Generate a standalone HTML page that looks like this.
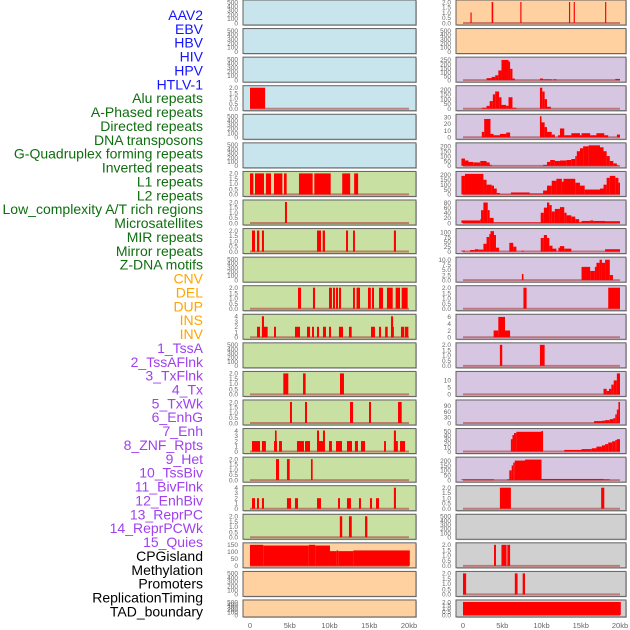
<!DOCTYPE html>
<html><head><meta charset="utf-8">
<style>
html,body{margin:0;padding:0;background:#fff;width:630px;height:630px;overflow:hidden}
svg{display:block}
text{font-family:"Liberation Sans",sans-serif}
</style></head>
<body>
<svg id="chart" width="630" height="630" viewBox="0 0 630 630" xmlns="http://www.w3.org/2000/svg"></svg>
<script>
// ---- labels ----
const trackLabels = ["AAV2","EBV","HBV","HIV","HPV","HTLV-1","Alu repeats","A-Phased repeats","Directed repeats","DNA transposons","G-Quadruplex forming repeats","Inverted repeats","L1 repeats","L2 repeats","Low_complexity A/T rich regions","Microsatellites","MIR repeats","Mirror repeats","Z-DNA motifs","CNV","DEL","DUP","INS","INV","1_TssA","2_TssAFlnk","3_TxFlnk","4_Tx","5_TxWk","6_EnhG","7_Enh","8_ZNF_Rpts","9_Het","10_TssBiv","11_BivFlnk","12_EnhBiv","13_ReprPC","14_ReprPCWk","15_Quies","CPGisland","Methylation","Promoters","ReplicationTiming","TAD_boundary"];
const xTickValues = [0,5,10,15,20];
const xTickLabels = ["0","5kb","10kb","15kb","20kb"];

// ---- left column panels: bg, yMax, ticks, segments [startKb,endKb,value] ----
const leftBg = ["blue","blue","blue","blue","blue","blue","green","green","green","green","green","green","green","green","green","green","green","green","green","orange","orange","orange"];
const leftYMax = [500,500,500,2,500,500,2,2,2,500,2,4,500,2,2,4,2,4,2,150,500,500];
const leftTicks = ["0,100,200,300,400,500","0,100,200,300,400,500","0,100,200,300,400,500","0.0,0.5,1.0,1.5,2.0","0,100,200,300,400,500","0,100,200,300,400,500","0.0,0.5,1.0,1.5,2.0","0.0,0.5,1.0,1.5,2.0","0.0,0.5,1.0,1.5,2.0","0,100,200,300,400,500","0.0,0.5,1.0,1.5,2.0","0,1,2,3,4","0,100,200,300,400,500","0.0,0.5,1.0,1.5,2.0","0.0,0.5,1.0,1.5,2.0","0,1,2,3,4","0.0,0.5,1.0,1.5,2.0","0,1,2,3,4","0.0,0.5,1.0,1.5,2.0","0,50,100,150","0,100,200,300,400,500","0,100,200,300,400,500"];
const leftRow3 = [[0,1.9,2]];
const leftRow6 = [[0,0.42,2],[0.63,1.76,2],[2.0,2.64,2],[3.02,4.07,2],[4.28,4.61,2],[6.16,7.88,2],[8.09,10.15,2],[11.6,12.6,2],[13.1,13.6,2]];
const leftRow7 = [[4.4,4.65,2]];
const leftRow8 = [[0.25,0.63,2],[0.88,1.17,2],[1.5,1.76,2],[8.43,8.93,2],[9.14,9.43,2],[12.08,12.33,2],[12.96,13.2,2],[18.1,18.36,2]];
const leftRow10 = [[6.04,6.42,2],[7.92,8.18,2],[9.94,10.31,2],[10.44,10.69,2],[10.82,11.07,2],[11.19,11.45,2],[12.96,13.2,2],[13.4,13.84,2],[14.84,15.2,2],[15.35,15.6,2],[16.23,16.73,2],[17.23,17.95,2],[18.32,18.87,2],[19.08,19.83,2]];
const leftRow11 = [[0.88,1.26,2],[1.5,2.22,2],[1.5,1.76,4],[3.02,3.27,2],[5.66,6.29,2],[7.17,7.55,2],[7.8,8.05,2],[8.43,8.68,2],[9.18,9.56,2],[9.94,10.19,2],[11.19,11.7,2],[12.45,12.79,2],[15.22,15.72,2],[16.23,16.48,2],[17.0,17.32,2],[17.74,18.1,2],[17.74,18.0,4],[18.99,19.41,2],[19.5,19.92,2]];
const leftRow13 = [[4.19,4.82,2],[6.67,7.0,2],[11.32,11.82,2]];
const leftRow14 = [[5.03,5.28,2],[6.92,7.17,2],[12.58,12.96,2],[14.97,15.22,2],[18.62,19.08,2]];
const leftRow15 = [[0.25,1.26,2],[1.5,2.0,2],[3.02,3.4,2],[3.14,3.35,4],[3.65,4.02,2],[5.91,6.79,2],[6.92,7.55,2],[8.43,9.31,2],[8.43,8.68,4],[9.18,9.43,4],[9.94,10.31,2],[10.82,11.57,2],[12.2,12.83,2],[13.2,13.58,2],[13.96,14.47,2],[16.86,17.1,2],[18.1,18.6,2],[18.1,18.36,4],[18.87,19.5,2]];
const leftRow16 = [[3.27,3.65,2],[4.65,4.99,2],[7.67,7.88,2]];
const leftRow17 = [[0.25,0.63,2],[0.88,1.13,2],[1.5,1.76,2],[4.65,5.16,2],[5.66,6.04,2],[8.43,8.93,2],[11.07,11.32,2],[12.2,12.7,2],[13.71,13.96,2],[15.09,15.35,2],[15.85,16.23,2],[18.1,18.36,4]];
const leftRow18 = [[11.3,11.6,2],[12.45,12.8,2],[14.47,14.76,2]];
const leftRow19 = [[0,1.67,150],[1.67,7.4,145],[7.4,8.2,150],[8.2,10.06,145],[10.06,10.9,105],[10.9,11.1,110],[11.1,13.0,105],[13.0,20.1,110]];
const leftData = [[],[],[],leftRow3,[],[],leftRow6,leftRow7,leftRow8,[],leftRow10,leftRow11,[],leftRow13,leftRow14,leftRow15,leftRow16,leftRow17,leftRow18,leftRow19,[],[]];

// ---- right column panels ----
const rightBg = ["orange","orange","purple","purple","purple","purple","purple","purple","purple","purple","purple","purple","purple","purple","purple","purple","purple","grey","grey","grey","grey","grey"];
const rightYMax = [2,500,260,220,31,215,215,82,108,10.3,2,6.2,2,15,110,51,215,2,500,2,2,2];
const rightTicks = ["0.0,0.5,1.0,1.5,2.0","0,100,200,300,400,500","0,50,100,150,200,250","0,50,100,150,200","0,10,20,30","0,50,100,150,200","0,50,100,150,200","0,20,40,60,80","0,25,50,75,100","0.0,2.5,5.0,7.5,10.0","0.0,0.5,1.0,1.5,2.0","0,2,4,6","0.0,0.5,1.0,1.5,2.0","0,5,10","0,30,60,90","0,10,20,30,40,50","0,50,100,150,200","0.0,0.5,1.0,1.5,2.0","0,100,200,300,400,500","0.0,0.5,1.0,1.5,2.0","0.0,0.5,1.0,1.5,2.0","0.0,0.5,1.0,1.5,2.0"];
const rightRow0 = [[0.95,1.1,1],[3.65,3.85,2],[7.3,7.45,2],[13.5,13.65,2],[14.1,14.25,2],[18.1,18.25,2]];
const rightRow2 = [[3.0,3.65,25],[3.65,4.1,40],[4.1,4.5,60],[4.5,4.9,120],[4.9,5.8,250],[5.8,6.0,230],[6.0,6.3,140],[6.3,6.6,20],[9.8,10.2,20],[10.2,11.3,10],[11.5,11.9,10],[19.4,20,15]];
const rightRow3 = [[2.4,3.0,10],[3.0,3.4,30],[3.4,3.8,80],[3.8,4.1,150],[4.1,4.6,180],[4.6,4.9,120],[4.9,5.5,40],[5.5,5.8,30],[5.8,6.3,120],[6.3,6.8,10],[9.8,10.1,220],[10.1,10.4,180],[10.4,10.7,100],[10.7,11.2,20]];
const rightRow4 = [[2.4,2.7,8],[2.7,3.5,27],[3.5,3.9,5],[3.9,4.7,3],[4.7,5.5,5],[5.5,6.0,7],[9.8,10.0,31],[10.0,10.4,22],[10.4,10.7,15],[10.7,11.3,8],[11.3,11.7,4],[12.1,12.35,3],[12.35,12.9,13],[12.9,13.8,3],[13.8,14.9,6],[14.9,15.1,3],[15.1,16.2,6],[16.2,17.0,3],[17.0,18.0,6],[18.0,18.5,3],[19.6,20,4]];
const rightRow5 = [[-0.2,0.25,75],[0.25,0.7,55],[0.7,1.3,40],[1.3,2.2,35],[2.2,3.0,50],[3.0,3.4,35],[3.4,3.65,10],[10.2,10.7,10],[10.7,11.1,40],[11.1,11.7,60],[11.7,12.35,50],[12.35,13.2,55],[13.2,13.8,60],[13.8,14.3,70],[14.3,14.5,100],[14.5,14.9,150],[14.9,15.3,180],[15.3,16.0,200],[16.0,17.45,210],[17.45,17.9,190],[17.9,18.3,150],[18.3,18.7,100],[18.7,19.15,50],[19.15,19.6,25],[19.6,19.8,5]];
const rightRow6 = [[-0.2,0.25,190],[0.25,2.6,210],[2.6,3.0,150],[3.0,3.65,100],[3.65,3.95,90],[3.95,4.3,60],[4.3,4.7,15],[4.7,6.1,3],[6.1,8.5,20],[8.5,10.2,10],[10.2,10.7,40],[10.7,11.3,90],[11.3,11.9,140],[11.9,12.6,160],[12.6,12.8,130],[12.8,14.3,160],[14.3,14.9,120],[14.9,15.5,90],[15.5,17.45,50],[17.45,17.9,60],[17.9,18.3,100],[18.3,18.7,170],[18.7,19.4,190],[19.4,19.8,170],[19.8,20,120]];
const rightRow7 = [[-0.2,2.2,10],[2.2,2.3,15],[2.3,2.6,50],[2.6,3.15,80],[3.15,3.4,50],[3.4,3.9,20],[3.9,9.9,2],[9.9,10.3,40],[10.3,10.7,60],[10.7,11.0,80],[11.0,11.3,70],[11.3,11.7,45],[11.7,12.35,55],[12.35,12.9,62],[12.9,13.2,40],[13.2,13.8,30],[13.8,14.3,25],[14.3,14.8,15],[14.8,15.1,3],[15.1,16.2,8],[16.2,16.6,10],[16.6,18.1,8],[18.1,20,7]];
const rightRow8 = [[-0.2,0.25,5],[0.9,1.5,8],[1.5,1.95,12],[1.95,2.6,10],[2.6,3.0,40],[3.0,3.35,75],[3.35,3.5,90],[3.5,3.95,105],[3.95,4.2,85],[4.2,4.6,20],[5.9,6.4,45],[6.4,6.8,25],[7.5,7.7,5],[9.9,10.3,70],[10.3,10.7,85],[10.7,11.0,70],[11.0,11.4,30],[11.4,11.9,15],[12.15,12.35,20],[12.35,12.9,28],[12.9,13.8,15],[18.1,20,12]];
const rightRow9 = [[7.5,7.7,3],[15.1,16.2,6.5],[16.2,16.8,4.5],[16.8,17.0,6.5],[17.0,17.4,8.5],[17.4,17.7,10],[17.7,18.1,8.5],[18.1,18.7,10],[18.7,19.1,2.5]];
const rightRow10 = [[7.7,8.1,2],[18.5,20,2]];
const rightRow11 = [[3.9,4.5,2],[4.5,5.35,6],[5.35,6.0,2]];
const rightRow12 = [[4.7,5.0,2],[9.8,10.4,2]];
const rightRow13 = [[17.9,18.3,4],[18.3,18.6,2.5],[18.6,18.9,4],[18.9,19.2,7],[19.2,19.6,10],[19.6,20,15]];
const rightRow14 = [[16.7,17.7,10],[17.7,18.1,12],[18.1,18.7,15],[18.7,19.15,20],[19.15,19.4,25],[19.4,19.6,45],[19.6,19.8,70],[19.8,20,110]];
const rightRow15 = [[6.1,6.3,30],[6.3,6.5,40],[6.5,6.8,45],[6.8,10.0,48],[10.0,10.2,50],[12.9,15.1,4],[15.1,16.4,6],[16.4,17.0,8],[17.0,17.7,12],[17.7,18.1,15],[18.1,18.5,18],[18.5,19.0,22],[19.0,19.4,25],[19.4,19.6,28],[19.6,20,30]];
const rightRow16 = [[-0.2,3.95,8],[5.65,5.9,8],[5.9,6.2,100],[6.2,6.4,150],[6.4,6.6,180],[6.6,7.9,200],[7.9,10.0,210],[10.0,17.9,12],[17.9,18.7,8]];
const rightRow17 = [[4.7,6.1,2],[17.6,18.0,2]];
const rightRow19 = [[3.95,4.2,2],[4.9,5.55,2],[5.65,6.0,2]];
const rightRow20 = [[0,0.4,2],[6.6,6.95,2],[7.6,7.9,2]];
const rightRow21 = [[0,20.1,2]];
const rightData = [rightRow0,[],rightRow2,rightRow3,rightRow4,rightRow5,rightRow6,rightRow7,rightRow8,rightRow9,rightRow10,rightRow11,rightRow12,rightRow13,rightRow14,rightRow15,rightRow16,rightRow17,[],rightRow19,rightRow20,rightRow21];

const NS = "http://www.w3.org/2000/svg";
const svg = document.getElementById("chart");
const bgColors = {blue:"#c8e4ec",green:"#c8e0a2",orange:"#ffd1a0",purple:"#d7c6e2",grey:"#d0d0d0"};
const ROW_STEP = 28.57;
function mk(tag, attrs, parent){const e=document.createElementNS(NS,tag);for(const k in attrs)e.setAttribute(k,attrs[k]);(parent||svg).appendChild(e);return e;}
function rowTop(i){return i*ROW_STEP;}
function rowH(i){return i===21?17:25;}
const cols = [
  {px:243,pw:173,x0:250,scale:7.95,bg:leftBg,yMax:leftYMax,ticks:leftTicks,data:leftData,name:"left"},
  {px:456,pw:170,x0:463,scale:7.85,bg:rightBg,yMax:rightYMax,ticks:rightTicks,data:rightData,name:"right"}
];

// labels
const labelColor = i => i<6?"#1414ff":(i<19?"#0f6e0f":(i<24?"#ffa500":(i<39?"#a040f0":"#000")));
trackLabels.forEach((t,i)=>{
  const el = mk("text",{x:203,y:15+i*13.87+5,"text-anchor":"end","font-size":"14",fill:labelColor(i)});
  
  
  el.textContent = t;
});

cols.forEach(c=>{
  const xs = kb => c.x0 + kb*c.scale;
  for(let i=0;i<22;i++){
    const top=rowTop(i), h=rowH(i);
    const g = mk("g",{});
    
    
    mk("rect",{x:c.px+1,y:top+1,width:c.pw,height:h,fill:"#999","opacity":"0.5"},g);
    mk("rect",{x:c.px,y:top,width:c.pw,height:h,fill:bgColors[c.bg[i]]},g);
    const yMax=c.yMax[i];
    const yb=top+h-2, yr=h-4;
    const ys = v => yb - v/yMax*yr;
    const segs=c.data[i];
    const clipId="clip-"+c.name+"-"+i;
    const cp=mk("clipPath",{id:clipId},g); mk("rect",{x:c.px,y:top,width:c.pw,height:h},cp);
    const dg=mk("g",{"clip-path":"url(#"+clipId+")"},g);
    if(segs.length){
      const bl = mk("line",{x1:xs(0),x2:xs(20),y1:yb,y2:yb,stroke:"#b04040","stroke-width":"2","opacity":"0.6"},dg);
      
      
    }
    segs.forEach(s=>{
      const x1=xs(s[0]), x2=xs(s[1]), y=ys(s[2]);
      const r = mk("rect",{x:x1,y:y,width:Math.max(1,x2-x1),height:yb-y,fill:"#ff0000"},dg);
      
      
    });
    mk("rect",{x:c.px,y:top,width:c.pw,height:h,fill:"none",stroke:"#606060","stroke-width":"1"},g);
    // y ticks
    c.ticks[i].split(",").forEach(t=>{
      const v=parseFloat(t);
      const tt = mk("text",{x:c.px-5,y:ys(v)+2.3,"text-anchor":"end","font-size":"6.5",fill:"#666"},g);
      
      
      tt.textContent=t;
    });
  }
  xTickValues.forEach((v,k)=>{
    const t = mk("text",{x:xs(v),y:628,"text-anchor":"middle","font-size":"7.5",fill:"#666"});
    
    
    t.textContent = xTickLabels[k];
  });
});
</script>
</body></html>
